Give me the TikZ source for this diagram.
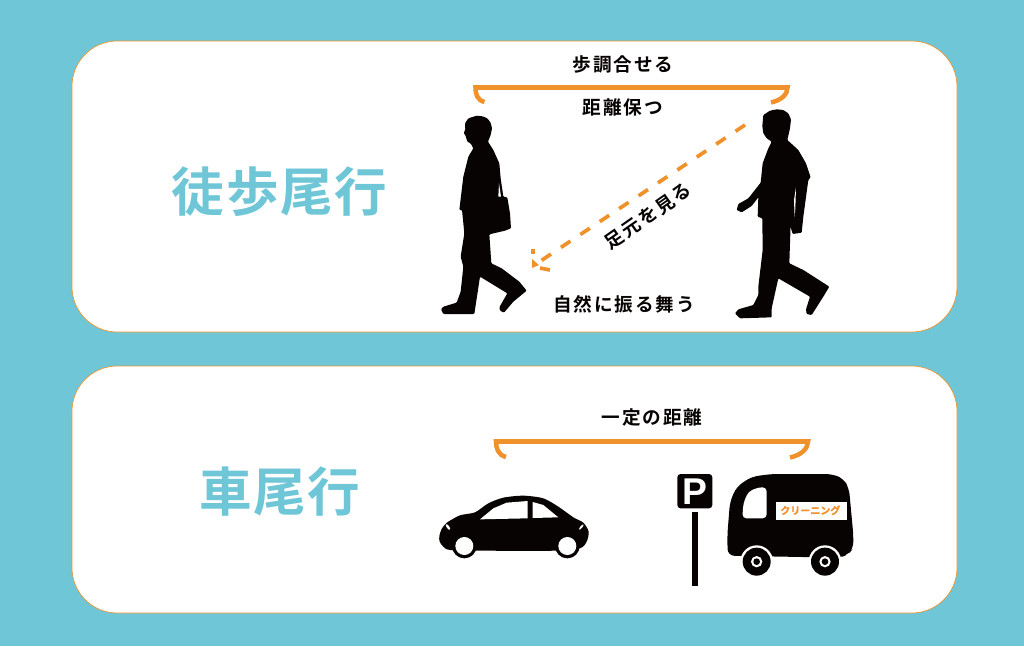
\documentclass[tikz,border=0pt]{standalone}
\usepackage{fontspec}
\usepackage{xcolor}
\setmainfont{Noto Sans CJK JP}
\newfontfamily\jpbold[LetterSpace=3]{Noto Sans CJK JP Bold}
\newfontfamily\jplabel[LetterSpace=10]{Noto Sans CJK JP Bold}
\newfontfamily\jpsign[FakeBold=1.5]{Noto Sans CJK JP Bold}
\newfontfamily\jpp{Liberation Sans Bold}
\definecolor{teal}{HTML}{6EC6D6}
\definecolor{bracket}{HTML}{F0922B}
\definecolor{ink}{HTML}{070303}
\tikzset{
  panel/.style={fill=white, draw=bracket, line width=.5pt, rounded corners=34pt},
  heading/.style={text=teal, font=\jpbold\fontsize{39.5}{40}\selectfont, inner sep=0pt},
  tag/.style={text=ink, font=\jplabel\fontsize{14}{15}\selectfont, inner sep=0pt},
  span/.style={draw=bracket, line width=3.4pt},
  sight/.style={draw=bracket, line width=2.8pt},
  shadow/.style={fill=ink, rounded corners=.7pt},
}
\begin{document}
\begin{tikzpicture}[x=.0264cm, y=-.0264cm]
\fill[teal] (0,0) rectangle (1024,646);
\useasboundingbox (0,0) rectangle (1024,646);
\draw[panel] (72,41) rectangle (957,332);
\draw[panel] (72,366) rectangle (957,613);

\node[heading] (foot) at (279.5,192) {徒歩尾行};
\node[heading] (car) at (279.5,492) {車尾行};
\node[tag] (pace) at (623,64) {歩調合せる};
\node[tag] (keep) at (623,107) {距離保つ};
\node[tag] (act) at (624,304) {自然に振る舞う};
\node[tag] (fixed) at (652,417) {一定の距離};
\node[tag, rotate=35] (feet) at (648,216) {足元を見る};

% brackets
\draw[span] (484.5,102) .. controls (477,100) and (475.5,94) .. (475.5,87.5) -- (787.5,87.5) .. controls (787.5,94) and (782,100) .. (771,102.5);
\draw[span] (506,457) .. controls (498,455) and (496,448) .. (496,441.5) -- (808,441.5) .. controls (808,448) and (802,455) .. (790,457.5);

% line of sight
\coordinate (eye) at (745,125);
\coordinate (tip) at (533,266);
\coordinate (wingA) at (533,249);
\coordinate (wingB) at (550,270);
\draw[sight, dash pattern=on 8.5pt off 9pt] (eye) -- (tip);
\draw[sight] (wingA) -- ++(0,5);
\draw[sight] (wingB) -- ++(-10,-2);
\fill[bracket] (532,259) -- (539,265) -- (532,268) -- cycle;

% walker with bag
\begin{scope}[shift={(430,100)}, scale=1/3]
\fill[shadow] (140,47) -- (158,49) -- (172,55) -- (182,68) -- (186,85) -- (182,105) -- (174,125) -- (190,150) -- (208,190) -- (212,235) -- (220,290) -- (232,292) -- (240,340) -- (243,385) -- (225,392) -- (178,403) -- (184,490) -- (215,505) -- (268,545) -- (290,572) -- (250,605) -- (222,638) -- (210,632) -- (208,622) -- (232,580) -- (150,530) -- (133,642) -- (40,642) -- (33,628) -- (40,620) -- (80,608) -- (92,575) -- (100,500) -- (92,470) -- (103,400) -- (96,330) -- (88,330) -- (100,230) -- (115,170) -- (130,145) -- (122,130) -- (112,125) -- (106,105) -- (101,100) -- (106,88) -- (105,70) -- (115,55) -- cycle;
\fill[white] (207,250) -- (213,290) -- (205,290) -- cycle;
\end{scope}

% walker without bag
\begin{scope}[shift={(720,100)}, scale=1/3]
\fill[shadow] (170,28) -- (190,30) -- (205,40) -- (213,58) -- (210,85) -- (202,120) -- (235,150) -- (258,190) -- (272,232) -- (265,240) -- (250,350) -- (245,398) -- (218,402) -- (213,385) -- (212,370) -- (208,490) -- (250,510) -- (328,560) -- (310,590) -- (275,645) -- (260,642) -- (258,628) -- (270,590) -- (175,535) -- (155,625) -- (155,652) -- (60,655) -- (45,640) -- (55,628) -- (100,615) -- (115,585) -- (115,560) -- (128,450) -- (127,355) -- (113,350) -- (115,292) -- (95,318) -- (65,337) -- (50,330) -- (55,312) -- (85,295) -- (122,248) -- (128,190) -- (145,145) -- (155,125) -- (140,115) -- (130,100) -- (127,78) -- (130,45) -- (150,32) -- cycle;
\fill[white] (228,262) -- (222,300) -- (224,352) -- (226,325) -- cycle;
\end{scope}

% car
\begin{scope}[shift={(430,480)}, scale=1/3]
\fill[ink] plot[smooth cycle, tension=.45] coordinates {(28,168) (36,145) (52,127) (90,106) (135,97) (175,70) (220,53) (280,47) (340,55) (385,80) (430,112) (460,128) (476,155) (470,185) (450,205) (380,212) (150,212) (60,210) (40,200) (29,185)};
\fill[ink] (103,198) circle (37);
\fill[ink] (412,198) circle (37);
\fill[white] (103,198) circle (27);
\fill[white] (412,198) circle (27);
\fill[white] (150,118) -- (190,85) -- (230,68) -- (293,63) -- (293,115) -- cycle;
\fill[white] (308,66) -- (340,75) -- (385,112) -- (308,114) -- cycle;
\fill[white, rotate around={-55:(54,141)}] (54,141) ellipse (10 and 4);
\fill[white, rotate around={50:(454,141)}] (454,141) ellipse (10 and 3);
\end{scope}

% parking sign and van
\begin{scope}[shift={(665,465)}, scale=1/3]
\fill[ink, rounded corners=2.5pt] (37,27) rectangle (142,130);
\node[text=white, font=\jpp\fontsize{28}{28}\selectfont, inner sep=0pt] (park) at (90,80) {P};
\fill[ink] (80,141) rectangle (100,362);
\fill[ink, rounded corners=5pt] (188,272) -- (187,210) -- (195,110) -- (215,65) -- (260,35) -- (320,27) -- (500,27) -- (535,40) -- (552,70) -- (565,210) -- (565,250) -- (550,268) -- (525,278) -- cycle;
\fill[white, rounded corners=3pt] (232,160) -- (235,115) -- (250,80) -- (280,67) -- (305,67) -- (305,160) -- cycle;
\fill[white] (333,110) rectangle (545,165);
\node[text=bracket, font=\jpsign\fontsize{7.5}{8}\selectfont, inner sep=0pt] (shop) at (436,136) {クリーニング};
\foreach \cx in {275,480}{
  \fill[white] (\cx,290) circle (49);
  \fill[ink] (\cx,290) circle (42);
  \fill[white] (\cx,290) circle (17);
  \fill[ink] (\cx,290) circle (10);
}
\end{scope}
\end{tikzpicture}
\end{document}
